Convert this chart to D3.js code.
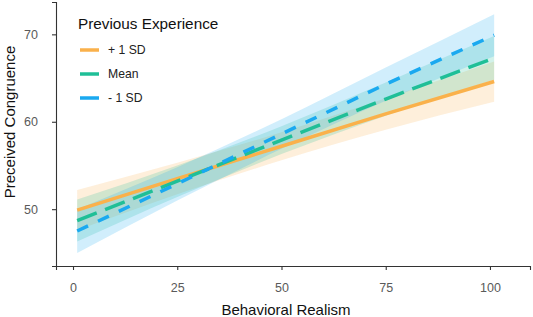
<!DOCTYPE html>
<html>
<head>
<meta charset="utf-8">
<script src="https://cdn.jsdelivr.net/npm/d3@7"></script>
<style>
  html, body { margin: 0; padding: 0; background: #fff; }
  svg { display: block; font-family: "Liberation Sans", Arial, sans-serif; }
</style>
</head>
<body>
<svg id="chart" width="533" height="317"></svg>
<script>
// ---- data ----
const xValues = [1, 25, 50, 75, 101];
const seriesNames = ["+ 1 SD", "Mean", "- 1 SD"];
const plusFit   = [49.9, 53.5, 57.2, 60.9, 64.6];
const plusLow   = [47.6, 51.7, 55.6, 59.1, 62.3];
const plusHigh  = [52.2, 55.3, 58.8, 62.7, 66.9];
const meanFit   = [48.7, 53.2, 57.9, 62.6, 67.3];
const meanLow   = [46.3, 51.4, 56.3, 60.7, 64.8];
const meanHigh  = [51.1, 55.0, 59.5, 64.5, 69.8];
const minusFit  = [47.5, 52.9, 58.6, 64.3, 69.9];
const minusLow  = [45.0, 51.0, 56.9, 62.4, 67.5];
const minusHigh = [50.0, 54.8, 60.3, 66.2, 72.3];
const xTicks = [0, 25, 50, 75, 100];
const yTicks = [50, 60, 70];

const colors = ["#FAB14B", "#1FBF97", "#1AA9F0"];
const dashes = [null, "21,9", "12,11"];

const series = [
  {name: seriesNames[0], fit: plusFit,  lo: plusLow,  hi: plusHigh},
  {name: seriesNames[1], fit: meanFit,  lo: meanLow,  hi: meanHigh},
  {name: seriesNames[2], fit: minusFit, lo: minusLow, hi: minusHigh}
];

const svg = d3.select("#chart");
const x = d3.scaleLinear().domain([-4.08, 109.6]).range([56, 530]);
const y = d3.scaleLinear().domain([43.5, 73.7]).range([266, 2]);

// ribbons
const area = d3.area()
  .x(d => x(d.x)).y0(d => y(d.lo)).y1(d => y(d.hi))
  .curve(d3.curveMonotoneX);
series.forEach((s, i) => {
  const pts = xValues.map((xv, j) => ({x: xv, lo: s.lo[j], hi: s.hi[j]}));
  svg.append("path").attr("d", area(pts))
    .attr("fill", colors[i]).attr("fill-opacity", 0.2);
});

// lines
const line = d3.line().x(d => x(d.x)).y(d => y(d.v));
series.forEach((s, i) => {
  const pts = xValues.map((xv, j) => ({x: xv, v: s.fit[j]}));
  const p = svg.append("path").attr("d", line(pts))
    .attr("fill", "none").attr("stroke", colors[i]).attr("stroke-width", 3.5);
  if (dashes[i]) p.attr("stroke-dasharray", dashes[i]);
});

// axes
const xAxis = svg.append("g").attr("transform", "translate(0,266)")
  .call(d3.axisBottom(x).tickValues(xTicks).tickSize(4).tickPadding(13).tickFormat(d3.format("d")));
const yAxis = svg.append("g").attr("transform", "translate(56,0)")
  .call(d3.axisLeft(y).tickValues(yTicks).tickSize(4).tickPadding(14).tickFormat(d3.format("d")));
[xAxis, yAxis].forEach(g => {
  g.select(".domain").attr("stroke", "#333").attr("stroke-width", 1.1);
  g.selectAll(".tick line").attr("stroke", "#333").attr("stroke-width", 1.1);
  g.selectAll(".tick text").attr("fill", "#5a5a5a").attr("font-size", 12.5)
    .attr("font-family", "Liberation Sans, Arial, sans-serif");
});

// axis titles
svg.append("text").attr("x", 286).attr("y", 315).attr("text-anchor", "middle")
  .attr("font-size", 15).attr("fill", "#111").text("Behavioral Realism");
svg.append("text").attr("transform", "translate(15,122) rotate(-90)")
  .attr("text-anchor", "middle").attr("font-size", 15).attr("fill", "#111")
  .text("Preceived Congruence");

// legend
const leg = svg.append("g");
leg.append("text").attr("x", 78).attr("y", 29).attr("font-size", 15.3)
  .attr("fill", "#111").text("Previous Experience");
series.forEach((s, i) => {
  const yy = 50 + i * 24;
  leg.append("line").attr("x1", 80).attr("x2", 99).attr("y1", yy).attr("y2", yy)
    .attr("stroke", colors[i]).attr("stroke-width", 3.5);
  leg.append("text").attr("x", 108).attr("y", yy + 4.3).attr("font-size", 12.2)
    .attr("fill", "#222").text(s.name);
});
</script>
</body>
</html>
